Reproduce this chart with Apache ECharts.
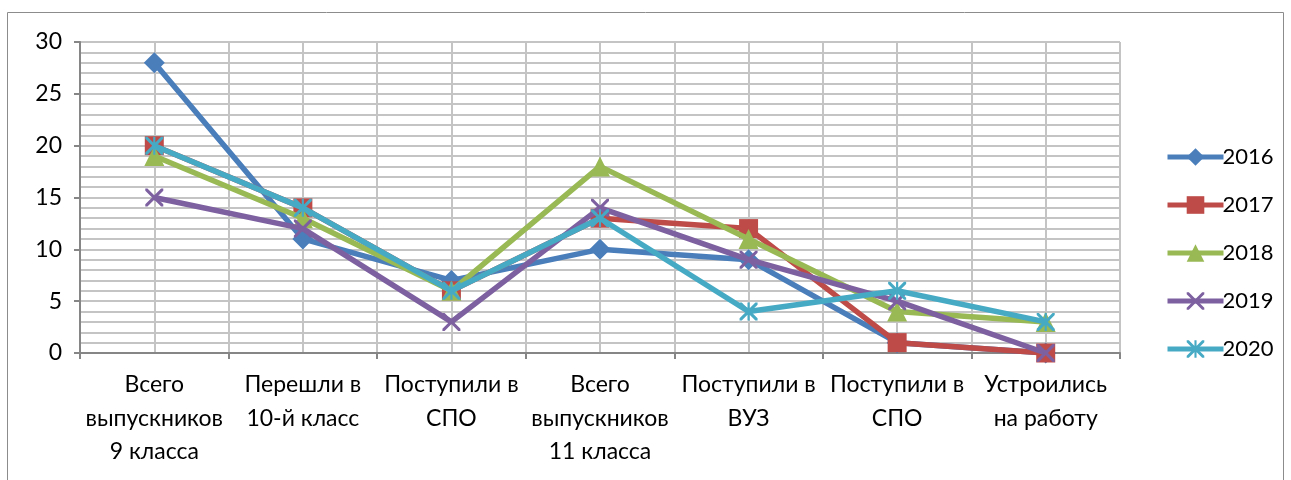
<!DOCTYPE html>
<html><head><meta charset="utf-8">
<script src="https://cdn.jsdelivr.net/npm/echarts@6/dist/echarts.min.js"></script>
<style>html,body{margin:0;padding:0;background:#fff}#c{width:1291px;height:480px}</style>
</head><body><div id="c"></div>
<script>
const categories = ['Всего\nвыпускников\n9 класса','Перешли в\n10-й класс','Поступили в\nСПО','Всего\nвыпускников\n11 класса','Поступили в\nВУЗ','Поступили в\nСПО','Устроились\nна работу'];
const seriesNames = ['2016','2017','2018','2019','2020'];
const v2016 = [28, 11, 7, 10, 9, 1, 0];
const v2017 = [20, 14, 6, 13, 12, 1, 0];
const v2018 = [19, 13, 6, 18, 11, 4, 3];
const v2019 = [15, 12, 3, 14, 9, 5, 0];
const v2020 = [20, 14, 6, 13, 4, 6, 3];
const yTicks = [0, 5, 10, 15, 20, 25, 30];

const colors = ['#4A7EBB','#BE4B48','#98B954','#7D60A0','#46AAC5'];
const xPath = 'path://M0,0 L1.2,0 L10,8.8 L10,10 L8.8,10 L0,1.2 Z M8.8,0 L10,0 L10,1.2 L1.2,10 L0,10 L0,8.8 Z';
const starPath = 'path://M0,0 L1.2,0 L10,8.8 L10,10 L8.8,10 L0,1.2 Z M8.8,0 L10,0 L10,1.2 L1.2,10 L0,10 L0,8.8 Z M4.4,0 L5.6,0 L5.6,10 L4.4,10 Z';
const symbols = ['diamond','rect','triangle', xPath, starPath];
const sizes = [21, 19, 20, 18, 18];
const data = [v2016, v2017, v2018, v2019, v2020];

const chart = echarts.init(document.getElementById('c'));
const font = 'Lato, "Open Sans", sans-serif';
chart.setOption({
  animation: false,
  textStyle: {fontFamily: font},
  graphic: [{type:'rect', shape:{x:7.5,y:12.5,width:1276,height:480}, style:{fill:'none', stroke:'#8c8c8c', lineWidth:1}, z:-10}],
  grid: {left: 80, right: 171, top: 42, bottom: 127},
  legend: {
    orient: 'vertical', left: 1160, top: 141,
    itemWidth: 56, itemHeight: 22, itemGap: 26,
    lineStyle: {width: 5},
    textStyle: {fontSize: 22, color: '#000', fontFamily: font, padding:[0,0,0,-6]},
    data: seriesNames
  },
  xAxis: [{
    type: 'category', data: categories, boundaryGap: true,
    axisLine: {lineStyle: {color: '#868686', width: 2}},
    axisTick: {show: true, length: 6, lineStyle: {color: '#868686', width: 2}},
    axisLabel: {color: '#000', fontSize: 23, lineHeight: 33.5, margin: 15, interval: 0, fontFamily: font},
    splitLine: {show: false}
  }, {
    type: 'value', min: 0, max: 14, interval: 1, show: true, position: 'bottom',
    axisLine: {show: false}, axisTick: {show: false}, axisLabel: {show: false},
    splitLine: {show: true, lineStyle: {color: '#c4c4c4', width: 2}}
  }],
  yAxis: {
    type: 'value', min: 0, max: 30, interval: 5,
    axisLine: {show: true, lineStyle: {color: '#868686', width: 2}},
    axisTick: {show: true, length: 6, lineStyle: {color: '#868686', width: 2}},
    axisLabel: {color: '#000', fontSize: 23, margin: 18, fontFamily: font},
    splitLine: {show: true, lineStyle: {color: '#c4c4c4', width: 2}},
    minorTick: {show: false, splitNumber: 5},
    minorSplitLine: {show: true, lineStyle: {color: '#c4c4c4', width: 2}}
  },
  series: seriesNames.map((n, i) => ({
    name: n, type: 'line', data: data[i], xAxisIndex: 0,
    symbol: symbols[i], symbolSize: sizes[i], showAllSymbol: true,
    lineStyle: {color: colors[i], width: 5.5},
    itemStyle: {color: colors[i]},
    z: 2 + i
  }))
});
</script></body></html>
